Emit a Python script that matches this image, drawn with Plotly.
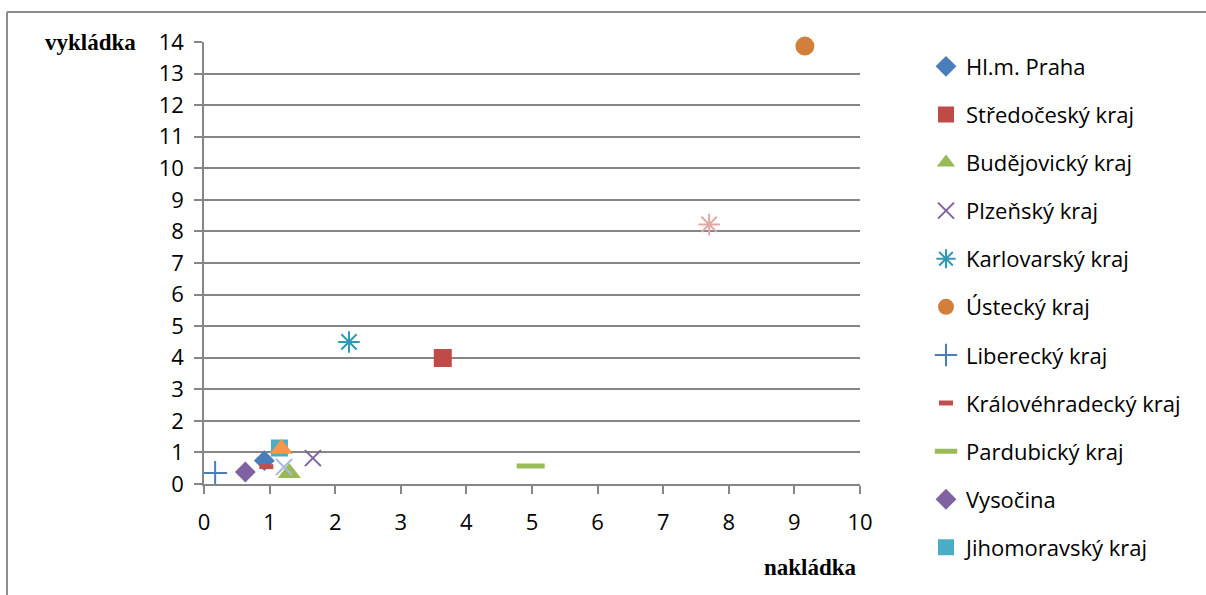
import plotly.graph_objects as go

# Regions: loading (nakládka, x) vs unloading (vykládka, y)
kraje = [
    "Hl.m. Praha", "Středočeský kraj", "Budějovický kraj", "Plzeňský kraj",
    "Karlovarský kraj", "Ústecký kraj", "Liberecký kraj", "Královéhradecký kraj",
    "Pardubický kraj", "Vysočina", "Jihomoravský kraj",
    "Olomoucký kraj", "Zlínský kraj", "Moravskoslezský kraj",
]
nakladka = [0.92, 3.64, 1.30, 1.66, 2.21, 9.16, 0.17, 0.95, 4.98, 0.63, 1.15, 1.18, 1.22, 7.70]
vykladka = [0.74, 3.99, 0.35, 0.82, 4.50, 13.87, 0.35, 0.55, 0.57, 0.38, 1.14, 1.12, 0.54, 8.22]
v_legende = [True] * 11 + [False] * 3

x_ticks = list(range(0, 11))
y_ticks = list(range(0, 15))

# marker styling per series: symbol, size, fill colour, outline width
styly = [
    ("diamond", 16, "#4A7EBB", 0),
    ("square", 18, "#BE4B48", 0),
    ("triangle-up", 20, "#98B954", 0),
    ("x-thin", 16, "#7D60A0", 2),
    ("asterisk-open", 18, "#2F9AB5", 2),
    ("circle", 19, "#D17F3A", 0),
    ("cross-thin", 17, "#4A7EBB", 2),
    ("line-ew", 10, "#C0504D", 5),
    ("line-ew", 20, "#9BBB59", 5),
    ("diamond", 16, "#7F62A2", 0),
    ("square", 17, "#4BACC6", 0),
    ("triangle-up", 20, "#F79646", 0),
    ("x-thin", 16, "#A9BCDD", 2),
    ("asterisk-open", 18, "#E2A8A6", 2),
]

fig = go.Figure()
for i, nazev in enumerate(kraje):
    sym, size, col, lw = styly[i]
    if lw:
        marker = dict(symbol=sym, size=size, color=col, line=dict(color=col, width=lw))
    else:
        marker = dict(symbol=sym, size=size, color=col, line=dict(width=0))
    fig.add_trace(go.Scatter(
        x=[nakladka[i]], y=[vykladka[i]], mode="markers", name=nazev,
        marker=marker, showlegend=v_legende[i], legendgroup=nazev,
        cliponaxis=False,
    ))

axis_font = dict(family="Open Sans, sans-serif", size=22, color="#000000")
title_font = dict(family="Liberation Serif, Times New Roman, serif", size=23, color="#000000")
fig.update_layout(
    width=1206, height=595,
    margin=dict(l=204, r=346, t=42, b=111),
    paper_bgcolor="white", plot_bgcolor="white",
    xaxis=dict(
        range=[0, 10], tickvals=x_ticks, showgrid=False, zeroline=False,
        showline=True, linecolor="#868686", linewidth=1.5,
        ticks="outside", ticklen=8, tickcolor="#868686", tickwidth=1.5,
        tickfont=axis_font, ticklabelstandoff=10,
    ),
    yaxis=dict(
        range=[0, 14], tickvals=y_ticks, showgrid=True, gridcolor="#868686",
        gridwidth=1.5, zeroline=False,
        showline=True, linecolor="#868686", linewidth=1.5,
        ticks="outside", ticklen=8, tickcolor="#868686", tickwidth=1.5,
        tickfont=axis_font, ticklabelstandoff=6,
    ),
    legend=dict(
        x=1.1006, y=0.992, xanchor="left", yanchor="top",
        font=dict(family="Open Sans, sans-serif", size=22, color="#000000"),
        tracegroupgap=16.5, bgcolor="rgba(0,0,0,0)", maxheight=600,
    ),
    annotations=[
        dict(text="<b>vykládka</b>", xref="paper", yref="paper",
             x=-0.1, y=1.0, xanchor="right", yanchor="middle", showarrow=False,
             font=title_font),
        dict(text="<b>nakládka</b>", xref="paper", yref="paper",
             x=0.925, y=-0.19, xanchor="center", yanchor="middle", showarrow=False,
             font=title_font),
    ],
    shapes=[
        dict(type="line", xref="paper", yref="paper", x0=-0.3003, x1=2.0,
             y0=1.0679, y1=1.0679, line=dict(color="#8C8C8C", width=2)),
        dict(type="line", xref="paper", yref="paper", x0=-0.3003, x1=-0.3003,
             y0=1.0679, y1=-0.3, line=dict(color="#8C8C8C", width=2)),
    ],
)

fig.write_html("out.html")
